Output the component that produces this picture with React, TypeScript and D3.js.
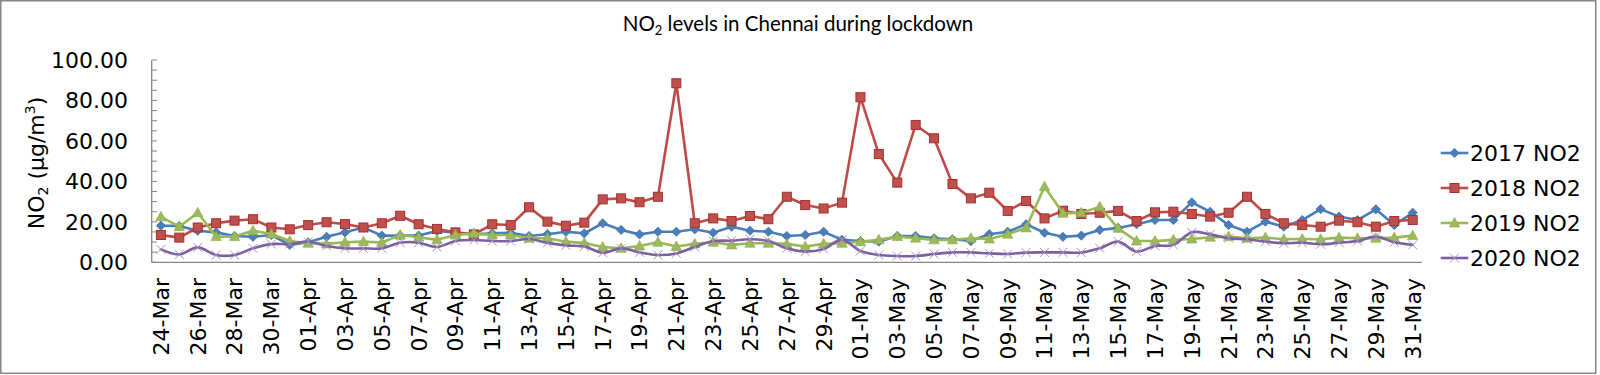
import React from "react";
import * as d3 from "d3";

const dates: string[] = [
  "24-Mar","25-Mar","26-Mar","27-Mar","28-Mar","29-Mar","30-Mar","31-Mar",
  "01-Apr","02-Apr","03-Apr","04-Apr","05-Apr","06-Apr","07-Apr","08-Apr","09-Apr","10-Apr",
  "11-Apr","12-Apr","13-Apr","14-Apr","15-Apr","16-Apr","17-Apr","18-Apr","19-Apr","20-Apr",
  "21-Apr","22-Apr","23-Apr","24-Apr","25-Apr","26-Apr","27-Apr","28-Apr","29-Apr","30-Apr",
  "01-May","02-May","03-May","04-May","05-May","06-May","07-May","08-May","09-May","10-May",
  "11-May","12-May","13-May","14-May","15-May","16-May","17-May","18-May","19-May","20-May",
  "21-May","22-May","23-May","24-May","25-May","26-May","27-May","28-May","29-May","30-May","31-May",
];

const no2_2017: number[] = [
  18.1, 18.0, 15.6, 14.8, 13.0, 12.6, 13.5, 8.6, 9.9, 12.6, 14.8, 17.2, 13.2, 13.2, 13.2, 15.5, 14.6, 13.8,
  14.3, 14.6, 13.0, 13.9, 15.1, 14.3, 19.3, 16.0, 13.8, 15.1, 15.1, 16.3, 14.6, 17.6, 15.6, 15.1, 13.0, 13.5,
  15.1, 11.1, 10.5, 10.2, 13.0, 13.0, 11.9, 11.4, 10.5, 13.9, 15.1, 18.8, 14.6, 12.6, 13.2, 16.0, 17.0, 18.8,
  20.9, 20.9, 29.6, 25.0, 18.4, 15.1, 20.1, 17.6, 20.9, 26.3, 22.6, 20.9, 26.2, 18.4, 24.5,
];

const no2_2018: number[] = [
  13.5, 12.2, 17.2, 19.3, 20.6, 21.3, 17.2, 16.3, 18.4, 19.8, 18.9, 17.2, 19.3, 23.0, 18.8, 16.5, 14.8, 13.8,
  18.8, 18.4, 27.2, 20.1, 18.1, 19.6, 31.1, 31.6, 29.7, 32.4, 88.5, 19.3, 21.7, 20.4, 22.9, 21.3, 32.4, 28.3,
  26.6, 29.5, 81.6, 53.5, 39.4, 67.9, 61.3, 38.7, 31.6, 34.4, 25.4, 30.3, 21.7, 25.5, 23.9, 24.5, 25.4, 20.4,
  24.7, 25.0, 23.9, 22.6, 24.5, 32.4, 23.9, 19.3, 18.4, 17.6, 20.6, 19.8, 17.6, 20.4, 20.9,
];

const no2_2019: number[] = [
  22.5, 17.6, 24.5, 12.7, 12.7, 15.6, 14.0, 10.5, 9.4, 9.1, 9.9, 10.2, 9.8, 13.5, 12.4, 11.1, 13.5, 14.3,
  13.5, 13.5, 11.9, 11.9, 10.2, 9.5, 7.6, 6.9, 8.1, 9.9, 7.8, 9.1, 9.9, 8.6, 9.4, 9.4, 9.1, 7.8,
  9.1, 9.4, 10.2, 11.1, 12.7, 11.9, 11.1, 11.1, 11.9, 11.5, 13.9, 17.0, 37.4, 24.2, 24.5, 27.4, 16.8, 10.5,
  10.5, 11.1, 11.5, 12.4, 12.7, 11.9, 12.2, 11.4, 11.5, 11.4, 12.2, 11.9, 11.9, 12.2, 13.2,
];

const no2_2020: number[] = [
  6.4, 3.9, 7.4, 3.6, 3.6, 6.9, 9.0, 9.0, 10.2, 8.1, 6.9, 6.9, 6.9, 9.7, 9.7, 7.6, 10.5, 11.0,
  10.5, 10.5, 11.5, 9.6, 8.3, 7.8, 4.7, 6.9, 4.9, 3.6, 4.4, 7.6, 10.5, 10.7, 11.4, 10.5, 6.9, 5.3,
  6.6, 11.1, 5.6, 3.6, 3.1, 3.1, 4.1, 4.9, 4.9, 4.4, 4.1, 4.8, 4.9, 4.9, 4.8, 6.9, 10.2, 5.3,
  8.1, 8.6, 14.8, 13.8, 11.9, 11.4, 10.2, 9.4, 9.7, 8.9, 9.7, 10.5, 12.7, 9.9, 8.6,
];

const yTicks: number[] = [0, 20, 40, 60, 80, 100];
const seriesNames: string[] = ["2017 NO2", "2018 NO2", "2019 NO2", "2020 NO2"];

const W = 1600;
const H = 375;
const AX_FONT = "'DejaVu Sans', Verdana, sans-serif";

type Series = {
  name: string;
  values: number[];
  color: string;
  marker: "diamond" | "square" | "triangle" | "x";
  smooth: boolean;
};

const series: Series[] = [
  { name: seriesNames[0], values: no2_2017, color: "#4A7EBB", marker: "diamond", smooth: false },
  { name: seriesNames[1], values: no2_2018, color: "#BE4B48", marker: "square", smooth: false },
  { name: seriesNames[2], values: no2_2019, color: "#98B954", marker: "triangle", smooth: false },
  { name: seriesNames[3], values: no2_2020, color: "#7D60A0", marker: "x", smooth: true },
];

function Marker({ kind, x, y }: { kind: Series["marker"]; x: number; y: number }) {
  if (kind === "diamond") {
    return <path d="M0,-4.6L4.6,0L0,4.6L-4.6,0Z" transform={`translate(${x},${y})`} fill="#4A7EBB" stroke="#3F6FA8" strokeWidth={0.8} />;
  }
  if (kind === "square") {
    return <rect x={x - 4.5} y={y - 4.5} width={9} height={9} fill="#C0504D" stroke="#A52F2B" strokeWidth={1} />;
  }
  if (kind === "triangle") {
    return <path d="M0,-5.5L5.2,4L-5.2,4Z" transform={`translate(${x},${y})`} fill="#9BBB59" stroke="#8BAA4A" strokeWidth={0.6} />;
  }
  return (
    <g transform={`translate(${x},${y})`} stroke="#A793C4" strokeWidth={1}>
      <line x1={-4.5} y1={-4.5} x2={4.5} y2={4.5} />
      <line x1={-4.5} y1={4.5} x2={4.5} y2={-4.5} />
    </g>
  );
}

export default function App() {
  const x = d3.scaleBand<string>().domain(dates).range([151.7, 1421.9]);
  const cx = (d: string) => (x(d) as number) + x.bandwidth() / 2;
  const y = d3.scaleLinear().domain([0, 100]).range([262.3, 60]);
  const fmt = d3.format(".2f");
  const minorTicks = d3.range(0, 100.001, 5);

  const lineStraight = d3
    .line<number>()
    .x((_, i) => cx(dates[i]))
    .y((v) => y(v));
  const lineSmooth = d3
    .line<number>()
    .x((_, i) => cx(dates[i]))
    .y((v) => y(v))
    .curve(d3.curveCardinal.tension(0));

  const legendY = [153, 188, 223, 258];

  return (
    <svg width={W} height={H} style={{ position: "absolute", left: 0, top: 0, background: "#fff" }}>
      <rect x={0} y={0} width={W} height={H} fill="#fff" />
      <rect x={0.75} y={0.75} width={1595} height={372.5} fill="none" stroke="#868686" strokeWidth={1.5} />

      {/* title */}
      <text x={798} y={30.5} textAnchor="middle" fontFamily="Lato, 'Open Sans', sans-serif" fontSize={20.5} fill="#000">
        NO<tspan fontSize={13} dy={4}>2</tspan>
        <tspan dy={-4}> levels in Chennai during lockdown</tspan>
      </text>

      {/* y axis title */}
      <text
        transform={`translate(44,163) rotate(-90)`}
        textAnchor="middle"
        fontFamily={AX_FONT}
        fontSize={22}
        fill="#000"
      >
        NO<tspan fontSize={14} dy={4}>2</tspan>
        <tspan dy={-4}> (µg/m</tspan>
        <tspan fontSize={14} dy={-9}>3</tspan>
        <tspan dy={9}>)</tspan>
      </text>

      {/* y axis */}
      <line x1={151.7} x2={151.7} y1={y(100)} y2={y(0)} stroke="#868686" strokeWidth={1.3} />
      {minorTicks.map((t) => (
        <line key={t} x1={151.7} x2={157} y1={y(t)} y2={y(t)} stroke="#868686" strokeWidth={1} />
      ))}
      {yTicks.map((t) => (
        <text key={t} x={128} y={y(t)} dy="0.36em" textAnchor="end" fontFamily={AX_FONT} fontSize={22} fill="#000">
          {fmt(t)}
        </text>
      ))}

      {/* x axis */}
      <line x1={151.7} x2={1421.9} y1={y(0)} y2={y(0)} stroke="#868686" strokeWidth={1.3} />
      {dates.map((d, i) =>
        i % 2 === 0 ? (
          <text
            key={d}
            transform={`translate(${cx(d)},278) rotate(-90)`}
            dy="0.36em"
            textAnchor="end"
            fontFamily={AX_FONT}
            fontSize={22}
            fill="#000"
          >
            {d}
          </text>
        ) : null
      )}

      {/* series */}
      {series.map((s) => (
        <g key={s.name}>
          <path
            d={(s.smooth ? lineSmooth : lineStraight)(s.values) as string}
            fill="none"
            stroke={s.color}
            strokeWidth={2.6}
            strokeLinejoin="round"
            strokeLinecap="round"
          />
          {s.values.map((v, i) => (
            <Marker key={i} kind={s.marker} x={cx(dates[i])} y={y(v)} />
          ))}
        </g>
      ))}

      {/* legend */}
      {series.map((s, k) => (
        <g key={s.name}>
          <line x1={1440.7} x2={1468.3} y1={legendY[k]} y2={legendY[k]} stroke={s.color} strokeWidth={2.6} />
          <Marker kind={s.marker} x={1454.5} y={legendY[k]} />
          <text x={1470} y={legendY[k]} dy="0.36em" fontFamily={AX_FONT} fontSize={22} fill="#000">
            {s.name}
          </text>
        </g>
      ))}
    </svg>
  );
}
